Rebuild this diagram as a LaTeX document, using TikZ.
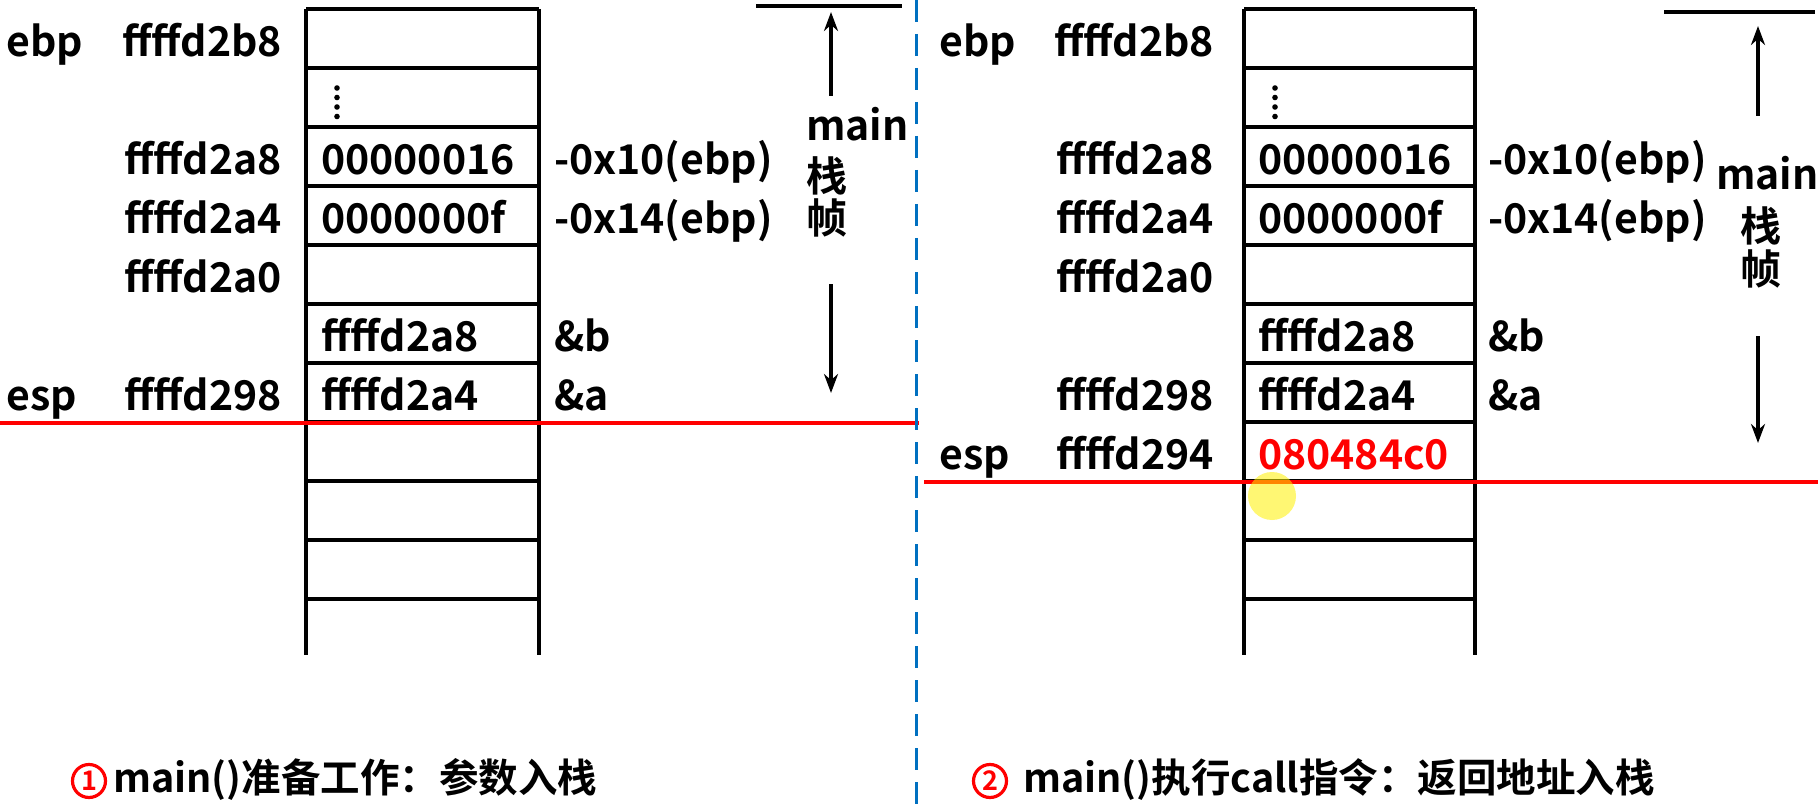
\documentclass[tikz,border=0pt]{standalone}
\usepackage{fontspec}
\setmainfont{Noto Sans CJK SC}[BoldFont=* Bold]
\usetikzlibrary{arrows.meta}
\definecolor{divblue}{RGB}{0,112,192}
\definecolor{hired}{RGB}{255,0,0}
\tikzset{
  lbl/.style={font=\fontsize{41}{44}\selectfont\bfseries, inner sep=0pt, yshift=-15pt},
  vlbl/.style={font=\fontsize{41}{44}\selectfont\bfseries, inner sep=0pt, yshift=-12pt, anchor=mid west},
  dotfill/.style={fill=black},
  grid/.style={line width=4.2pt, black},
  redline/.style={line width=4.5pt, hired},
  arr/.style={line width=4pt, -{Stealth[length=19pt,width=14pt]}},
  topbar/.style={line width=4.5pt, black},
  capt/.style={font=\fontsize{39.5}{42}\selectfont\bfseries, inner sep=0pt, anchor=mid west, yshift=-9pt},
  numc/.style={circle, draw=hired, line width=3.2pt, text=hired, minimum size=33pt, inner sep=0pt, font=\fontsize{27}{28}\selectfont\bfseries},
}
\begin{document}
\begin{tikzpicture}[x=1pt,y=-1pt]
\useasboundingbox (0,0) rectangle (1818,805);
\fill[white] (0,0) rectangle (1818,805);

% ---------- left stack ----------
\foreach \i in {0,...,10} { \draw[grid] (306,9+59*\i) -- (539,9+59*\i); }
\draw[grid] (306,9) -- (306,655);
\draw[grid] (539,9) -- (539,655);

% ---------- right stack ----------
\foreach \i in {0,...,10} { \draw[grid] (1244,9+59*\i) -- (1475,9+59*\i); }
\draw[grid] (1244,9) -- (1244,655);
\draw[grid] (1475,9) -- (1475,655);

% vertical dots in the second cell
\foreach \yy in {88,97.5,107,116.5} {
  \fill[dotfill] (337,\yy) circle (2.8);
  \fill[dotfill] (1275,\yy) circle (2.8);
}

% ---------- left texts ----------
\node[lbl, anchor=mid west] (lebp) at (6,38.5) {ebp};
\node[lbl, anchor=mid west] (lesp) at (6,392.5) {esp};
\node[lbl, anchor=mid east] (la0) at (282,38.5) {ffffd2b8};
\node[lbl, anchor=mid east] (la2) at (282,156.5) {ffffd2a8};
\node[lbl, anchor=mid east] (la3) at (282,215.5) {ffffd2a4};
\node[lbl, anchor=mid east] (la4) at (282,274.5) {ffffd2a0};
\node[lbl, anchor=mid east] (la6) at (282,392.5) {ffffd298};
\node[lbl, anchor=mid west] (lc2) at (321,156.5) {00000016};
\node[lbl, anchor=mid west] (lc3) at (321,215.5) {0000000f};
\node[lbl, anchor=mid west] (lc5) at (321,333.5) {ffffd2a8};
\node[lbl, anchor=mid west] (lc6) at (321,392.5) {ffffd2a4};
\node[lbl, anchor=mid west] (lr2) at (554,156.5) {-0x10(ebp)};
\node[lbl, anchor=mid west] (lr3) at (554,215.5) {-0x14(ebp)};
\node[lbl, anchor=mid west] (lr5) at (554,333.5) {\&b};
\node[lbl, anchor=mid west] (lr6) at (554,392.5) {\&a};

\draw[redline] (0,423) -- (919,423);
\draw[topbar] (756,6) -- (902,6);
\coordinate (lup0) at (831,96);
\coordinate (lup1) at (831,12);
\draw[arr] (lup0) -- (lup1);
\coordinate (ldn0) at (831,284);
\coordinate (ldn1) at (831,393);
\draw[arr] (ldn0) -- (ldn1);
\node[vlbl] (lmain) at (806,126) {main};
\node[vlbl] (lzhan) at (806,177) {栈};
\node[vlbl] (lzhen) at (806,219) {帧};

% ---------- right texts ----------
\node[lbl, anchor=mid west] (rebp) at (939,38.5) {ebp};
\node[lbl, anchor=mid west] (resp) at (939,451.5) {esp};
\node[lbl, anchor=mid east] (ra0) at (1214,38.5) {ffffd2b8};
\node[lbl, anchor=mid east] (ra2) at (1214,156.5) {ffffd2a8};
\node[lbl, anchor=mid east] (ra3) at (1214,215.5) {ffffd2a4};
\node[lbl, anchor=mid east] (ra4) at (1214,274.5) {ffffd2a0};
\node[lbl, anchor=mid east] (ra6) at (1214,392.5) {ffffd298};
\node[lbl, anchor=mid east] (ra7) at (1214,451.5) {ffffd294};
\node[lbl, anchor=mid west] (rc2) at (1258,156.5) {00000016};
\node[lbl, anchor=mid west] (rc3) at (1258,215.5) {0000000f};
\node[lbl, anchor=mid west] (rc5) at (1258,333.5) {ffffd2a8};
\node[lbl, anchor=mid west] (rc6) at (1258,392.5) {ffffd2a4};
\node[lbl, anchor=mid west, text=hired] (rc7) at (1258,451.5) {080484c0};
\node[lbl, anchor=mid west] (rr2) at (1488,156.5) {-0x10(ebp)};
\node[lbl, anchor=mid west] (rr3) at (1488,215.5) {-0x14(ebp)};
\node[lbl, anchor=mid west] (rr5) at (1488,333.5) {\&b};
\node[lbl, anchor=mid west] (rr6) at (1488,392.5) {\&a};

\draw[redline] (924,482) -- (1818,482);
\draw[topbar] (1664,12) -- (1815,12);
\coordinate (rup0) at (1758,116);
\coordinate (rup1) at (1758,26);
\draw[arr] (rup0) -- (rup1);
\coordinate (rdn0) at (1758,336);
\coordinate (rdn1) at (1758,443);
\draw[arr] (rdn0) -- (rdn1);
\node[vlbl] (rmain) at (1716,175) {main};
\node[vlbl] (rzhan) at (1740,227) {栈};
\node[vlbl] (rzhen) at (1740,270) {帧};

% ---------- divider ----------
\draw[divblue, line width=3pt, dash pattern=on 22pt off 12pt] (916,0) -- (916,805);

% ---------- captions ----------
\node[numc] (n1) at (89,781) {1};
\node[capt] (cap1) at (113,781) {main()准备工作：参数入栈};
\node[numc] (n2) at (990,781) {2};
\node[capt] (cap2) at (1023,781) {main()执行call指令：返回地址入栈};

% cursor highlight
\fill[yellow, fill opacity=0.55] (1272,496) circle (24);
\end{tikzpicture}
\end{document}
